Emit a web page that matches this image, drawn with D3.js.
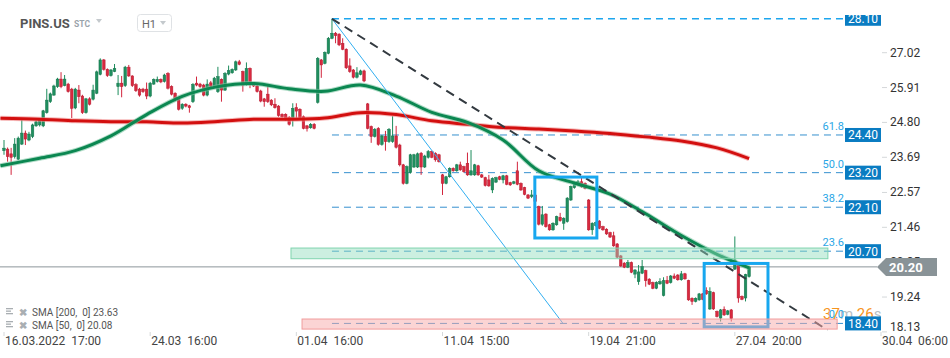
<!DOCTYPE html>
<html lang="en">
<head>
<meta charset="utf-8">
<title>PINS.US H1</title>
<script src="https://cdn.jsdelivr.net/npm/d3@7"></script>
<style>
  html, body { margin:0; padding:0; background:#fff; overflow:hidden; }
  svg text { font-family: Roboto, 'Open Sans', sans-serif; }
  .price_lbl { font-size:12px; fill:#333; }
  .time_lbl { font-size:12px; fill:#444; white-space:pre; }
  .fib_txt { font-size:11px; fill:#2aa6e6; text-anchor:end; }
  .box_txt { font-size:12px; fill:#fff; text-anchor:middle; }
  .legend_txt { font-size:10px; fill:#555; white-space:pre; }
</style>
</head>
<body>
<div id="chart"></div>
<script>
// ---- candles (hourly) ----
var opens = [23.90,23.95,23.80,23.71,23.63,24.11,24.46,24.24,24.35,24.69,24.72,24.69,25.11,25.46,25.67,25.94,26.18,25.97,26.02,25.86,
  25.26,25.83,25.64,25.11,25.55,25.54,25.73,26.33,26.79,26.49,26.29,26.42,25.94,26.05,25.97,26.56,26.28,26.00,25.86,25.86,
  25.86,25.64,26.02,26.10,26.17,26.10,26.36,25.94,25.73,25.54,25.25,25.38,25.33,25.46,26.05,26.02,25.99,25.67,26.06,25.94,
  25.78,26.17,25.83,26.34,26.38,26.47,26.73,26.42,26.01,26.52,26.02,25.96,25.80,25.55,25.70,25.51,25.38,25.32,25.06,25.06,
  24.96,24.88,25.27,25.22,24.98,24.69,24.63,24.74,25.44,26.79,26.68,27.00,27.48,27.64,27.61,27.32,27.13,26.60,26.47,26.24,
  26.33,26.44,25.39,24.67,24.35,24.61,24.10,24.35,24.19,24.19,24.37,24.08,23.45,22.86,23.20,23.38,23.38,23.82,23.38,23.69,
  23.87,23.82,23.77,23.13,22.86,23.07,23.34,23.26,23.45,23.39,23.50,23.13,23.13,23.42,23.13,23.04,22.97,22.65,22.90,23.07,
  22.97,23.10,22.88,22.86,23.26,22.86,22.72,22.49,22.44,22.49,22.12,21.56,21.88,21.54,21.38,21.54,21.78,21.59,21.64,22.33,
  22.72,22.81,22.91,22.86,22.33,21.38,21.51,21.66,21.48,21.40,21.29,21.19,20.93,20.55,20.32,20.19,20.34,19.97,19.73,20.00,
  20.08,19.81,19.70,19.52,19.66,19.29,19.77,19.70,19.91,19.94,19.79,19.98,19.76,19.20,19.10,19.15,19.34,19.45,18.86,19.38,
  18.78,18.57,18.85,18.69,18.83,20.13,20.26,19.26,19.21,19.89];
var highs = [24.24,24.00,23.99,24.30,24.35,24.88,24.54,24.50,24.76,24.86,24.92,25.20,25.87,25.75,26.00,26.22,26.40,26.31,26.06,25.90,
  25.90,25.99,25.68,25.58,25.60,26.00,26.45,26.84,26.82,26.52,26.50,26.66,26.31,26.28,26.60,26.63,26.30,26.05,25.90,25.90,
  26.07,26.09,26.20,26.26,26.20,26.35,26.40,25.98,25.76,25.57,25.41,25.41,25.36,26.05,26.26,26.06,26.03,26.17,26.12,26.25,
  26.57,26.20,26.40,26.61,26.52,26.77,26.79,26.45,26.71,26.55,26.05,26.00,25.84,25.58,25.99,25.54,25.57,25.35,25.09,25.09,
  25.00,25.41,25.41,25.25,25.02,24.72,24.78,24.78,26.88,26.82,27.06,27.52,28.10,27.68,27.64,27.48,27.16,26.84,26.50,26.56,
  26.48,26.48,25.42,24.70,24.62,24.65,24.40,24.53,24.62,25.00,24.69,24.12,23.48,23.43,23.80,23.80,23.84,23.86,23.77,23.92,
  23.90,23.85,23.80,23.16,23.10,23.37,23.37,23.48,23.55,23.42,23.84,23.92,23.48,23.45,23.16,23.07,23.13,23.05,23.07,23.10,
  23.13,23.13,22.91,22.94,23.55,22.89,22.75,22.52,22.65,22.52,22.15,22.14,21.91,21.57,21.62,21.83,21.92,21.78,22.42,22.79,
  22.91,22.97,23.03,22.89,22.36,21.62,21.64,21.69,21.51,21.43,21.32,21.32,20.96,20.58,20.35,20.42,20.37,20.13,20.26,20.42,
  20.11,19.84,19.73,19.74,19.84,19.87,19.91,19.94,19.99,19.97,20.07,20.01,19.79,19.23,19.23,19.37,19.37,19.55,19.55,19.41,
  18.81,18.86,18.94,18.83,18.86,21.17,20.29,19.29,19.98,20.21];
var lows = [23.77,23.55,23.13,23.65,23.60,24.08,24.08,24.20,24.30,24.66,24.67,24.65,25.08,25.42,25.65,25.90,25.89,25.95,25.75,24.94,
  25.22,25.41,25.07,25.08,25.34,25.50,25.70,26.30,26.45,26.25,26.26,26.40,25.67,25.60,25.93,26.25,25.93,25.77,25.62,25.74,
  25.54,25.60,26.00,26.07,26.05,26.07,25.85,25.66,25.47,25.18,25.20,25.28,25.11,25.42,25.95,25.90,25.63,25.63,25.90,25.90,
  25.74,25.46,25.80,26.30,26.35,26.44,26.62,25.78,25.97,25.89,25.93,25.75,25.44,25.30,25.42,25.32,25.24,24.98,24.95,24.85,
  24.70,24.67,24.88,24.92,24.58,24.51,24.60,24.58,25.40,26.22,26.65,26.97,27.45,27.32,27.23,27.10,26.50,26.38,26.20,26.20,
  26.30,26.08,24.58,24.15,24.32,24.06,24.06,23.90,24.15,24.15,23.97,23.40,22.82,22.83,23.17,23.35,23.35,23.13,23.35,23.65,
  23.66,23.55,23.52,22.49,22.83,23.04,23.23,23.23,23.26,23.20,23.10,23.10,23.10,23.10,23.03,22.76,22.75,22.55,22.87,22.96,
  22.86,22.80,22.78,22.83,22.80,22.62,22.48,22.36,22.39,22.25,21.52,21.51,21.45,21.35,21.35,21.51,21.64,21.38,21.61,22.30,
  22.69,22.78,22.72,22.67,21.35,21.22,21.48,21.40,21.35,21.22,21.12,20.84,20.48,20.20,20.16,20.16,20.00,19.84,19.63,19.97,
  19.57,19.62,19.49,19.49,19.63,19.26,19.65,19.67,19.81,19.76,19.76,19.79,19.12,18.99,19.07,19.12,19.14,19.31,18.83,18.83,
  18.59,18.46,18.64,18.66,18.46,20.10,19.06,19.14,19.10,19.86];
var closes = [23.98,23.71,23.69,24.11,24.30,24.46,24.27,24.43,24.72,24.82,24.88,25.17,25.51,25.71,25.96,26.18,25.94,26.18,25.78,25.25,
  25.86,25.62,25.11,25.55,25.38,25.83,26.41,26.79,26.49,26.29,26.47,26.52,26.05,25.94,26.56,26.28,25.97,25.81,25.67,25.78,
  25.64,26.05,26.17,26.17,26.09,26.31,25.89,25.70,25.51,25.22,25.38,25.32,25.27,26.01,25.99,25.94,25.67,26.02,25.94,26.21,
  26.26,25.83,26.36,26.45,26.49,26.73,26.65,25.99,26.52,26.01,25.96,25.78,25.48,25.46,25.46,25.36,25.27,25.02,24.98,24.88,
  24.74,25.25,25.16,24.95,24.61,24.61,24.74,24.61,26.84,26.63,27.03,27.48,27.64,27.56,27.27,27.13,26.54,26.42,26.24,26.38,
  26.44,26.12,24.61,24.35,24.58,24.10,24.37,24.19,24.58,24.37,24.01,23.45,22.86,23.39,23.77,23.77,23.80,23.38,23.73,23.87,
  23.69,23.61,23.55,22.86,23.07,23.34,23.26,23.45,23.29,23.23,23.13,23.26,23.45,23.13,23.06,22.79,22.78,23.02,23.04,22.99,
  23.10,22.83,22.81,22.91,22.83,22.65,22.51,22.39,22.49,22.28,21.56,21.86,21.48,21.38,21.59,21.80,21.67,21.75,22.39,22.76,
  22.88,22.91,22.76,22.70,21.38,21.59,21.61,21.43,21.38,21.25,21.15,20.87,20.51,20.23,20.19,20.34,20.03,20.10,20.04,20.21,
  19.76,19.65,19.52,19.71,19.73,19.76,19.68,19.91,19.84,19.79,19.98,19.82,19.15,19.10,19.20,19.34,19.17,19.34,19.42,18.86,
  18.62,18.83,18.67,18.80,18.55,20.42,19.21,19.17,19.95,20.20];

// ---- moving averages (candle index -> value) ----
var smaIdx = [-1,10,20,30,40,50,60,70,80,90,100,110,120,130,140,150,160,170,180,190,200,209];
var sma50 = [23.42,23.66,23.90,24.37,25.05,25.63,25.94,26.04,25.87,25.79,25.99,25.64,25.12,24.80,24.24,23.26,22.87,22.52,21.89,21.20,20.60,20.17];
var sma200 = [24.93,24.90,24.85,24.82,24.82,24.78,24.83,24.90,24.90,24.94,25.11,25.05,24.85,24.74,24.64,24.59,24.53,24.45,24.34,24.21,23.99,23.65];

// ---- axes ----
var priceTicks = [27.02,25.91,24.80,23.69,22.57,21.46,20.35,19.24,18.13];
var timeTickIdx = [0,41,82,123,164,205,246];
var timeTickLbl = ["16.03.2022  17:00","24.03  16:00","01.04  16:00","11.04  15:00","19.04  21:00","27.04  20:00","30.04  06:00"];

// ---- fibonacci retracement drawn from the top ----
var fibLevels = [28.10,24.40,23.20,22.10,20.70,18.40];
var fibRatios = ["","61.8","50.0","38.2","23.6","0.0"];
var fibStartIdx = 92;

// ---- drawings: [idx0, price0, idx1, price1] ----
var trendDashed = [92,28.10,231,18.19];
var trendThin = [92,28.10,156.8,18.40];
var greenZone = [80.5,20.80,231.1,20.46];
var redZone = [83.6,18.54,233.7,18.22];
var boxes = [[148.9,23.06,166.3,21.12],[196.4,20.31,214.3,18.29]];

var lastPrice = 20.20;
var legendLines = ["SMA [200,  0] 23.63","SMA [50,  0] 20.08"];

var w = 950, h = 358;

var svg = d3.select("#chart").append("svg")
  .attr("width", w).attr("height", h);

var x = d3.scaleLinear().domain([0, 246]).range([4, 881]);
var y = d3.scaleLinear().domain([18.13, 27.02]).range([331.9, 52.7]);

var defs = svg.append("defs");
defs.append("clipPath").attr("id", "clip")
  .append("rect").attr("x", 0).attr("y", 15).attr("width", w).attr("height", h - 15);

//////////////////////////////////////////////////////////////////////
// header
svg.append("text").attr("x", 20).attr("y", 28)
  .style("font-size", "13px").style("font-weight", "bold").style("fill", "#555")
  .text("PINS.US");
svg.append("text").attr("x", 74).attr("y", 27)
  .style("font-size", "8.5px").style("font-weight", "bold").style("fill", "#9aa3ab")
  .text("STC");
svg.append("path").attr("d", "M96,19 L102,19 L99,23 Z").attr("fill", "#c4c9cd");
svg.append("rect").attr("x", 137.5).attr("y", 14.5).attr("width", 34).attr("height", 17).attr("rx", 3)
  .attr("fill", "#fff").attr("stroke", "#dfe2e5");
svg.append("text").attr("x", 142).attr("y", 28)
  .style("font-size", "11px").style("fill", "#666")
  .text("H1");
svg.append("path").attr("d", "M160,21 L166,21 L163,25 Z").attr("fill", "#c4c9cd");

//////////////////////////////////////////////////////////////////////
// fib lines
var fib = svg.append("g");
fib.selectAll("line").data(fibLevels).enter().append("line")
  .attr("x1", x(fibStartIdx)).attr("x2", 845)
  .attr("y1", function(d){ return y(d); }).attr("y2", function(d){ return y(d); })
  .attr("stroke", function(d, i){ return i == 0 ? "#1da6ee" : "#3590cf"; })
  .attr("stroke-width", function(d, i){ return i == 0 ? 1.4 : 1; })
  .attr("stroke-dasharray", "7,5");

// current price line
svg.append("line").attr("x1", 0).attr("x2", 877)
  .attr("y1", y(lastPrice)).attr("y2", y(lastPrice))
  .attr("stroke", "#8c969b").attr("stroke-width", 1);

//////////////////////////////////////////////////////////////////////
// candles
var candles = svg.append("g").selectAll("g").data(closes).enter().append("g");
candles.append("line")
  .attr("x1", function(d, i){ return x(i); }).attr("x2", function(d, i){ return x(i); })
  .attr("y1", function(d, i){ return y(highs[i]); }).attr("y2", function(d, i){ return y(lows[i]); })
  .attr("stroke", function(d, i){ return d >= opens[i] ? "#1c8c5c" : "#d2253d"; })
  .attr("stroke-width", 1);
candles.append("rect")
  .attr("x", function(d, i){ return x(i) - 1.3; })
  .attr("width", 2.6)
  .attr("y", function(d, i){ return y(Math.max(d, opens[i])); })
  .attr("height", function(d, i){ return Math.max(1, Math.abs(y(d) - y(opens[i]))); })
  .attr("fill", function(d, i){ return d >= opens[i] ? "#1f8f5f" : "#d9293f"; })
  .attr("stroke", function(d, i){ return d >= opens[i] ? "#17744c" : "#b51c30"; })
  .attr("stroke-width", 0.5);

//////////////////////////////////////////////////////////////////////
// moving averages
var smaLine = d3.line()
  .x(function(d, i){ return x(smaIdx[i]); })
  .y(function(d){ return y(d); })
  .curve(d3.curveCatmullRom);

svg.append("path").attr("d", smaLine(sma200))
  .attr("fill", "none").attr("stroke", "#f08a8a").attr("stroke-width", 5).attr("opacity", 0.6);
svg.append("path").attr("d", smaLine(sma200))
  .attr("fill", "none").attr("stroke", "#d30f0f").attr("stroke-width", 3);
svg.append("path").attr("d", smaLine(sma50))
  .attr("fill", "none").attr("stroke", "#7cc4a2").attr("stroke-width", 5).attr("opacity", 0.6);
svg.append("path").attr("d", smaLine(sma50))
  .attr("fill", "none").attr("stroke", "#0b8751").attr("stroke-width", 3);

//////////////////////////////////////////////////////////////////////
// trend lines
svg.append("line")
  .attr("x1", x(trendThin[0])).attr("y1", y(trendThin[1]))
  .attr("x2", x(trendThin[2])).attr("y2", y(trendThin[3]))
  .attr("stroke", "#31aef0").attr("stroke-width", 1);
svg.append("line")
  .attr("x1", x(trendDashed[0])).attr("y1", y(trendDashed[1]))
  .attr("x2", x(trendDashed[2])).attr("y2", y(trendDashed[3]))
  .attr("stroke", "#333a40").attr("stroke-width", 2).attr("stroke-dasharray", "9,6");

// boxes
svg.append("g").selectAll("rect").data(boxes).enter().append("rect")
  .attr("x", function(d){ return x(d[0]); })
  .attr("y", function(d){ return y(d[1]); })
  .attr("width", function(d){ return x(d[2]) - x(d[0]); })
  .attr("height", function(d){ return y(d[3]) - y(d[1]); })
  .attr("fill", "none").attr("stroke", "#17a7ef").attr("stroke-width", 3);

// zones
svg.append("rect")
  .attr("x", x(greenZone[0])).attr("y", y(greenZone[1]))
  .attr("width", x(greenZone[2]) - x(greenZone[0])).attr("height", y(greenZone[3]) - y(greenZone[1]))
  .attr("fill", "#8fdcbb").attr("fill-opacity", 0.45)
  .attr("stroke", "#7fd4ae").attr("stroke-width", 1);
svg.append("rect")
  .attr("x", x(redZone[0])).attr("y", y(redZone[1]))
  .attr("width", x(redZone[2]) - x(redZone[0])).attr("height", y(redZone[3]) - y(redZone[1]))
  .attr("fill", "#f7a9a9").attr("fill-opacity", 0.5)
  .attr("stroke", "#f19c9c").attr("stroke-width", 1);

//////////////////////////////////////////////////////////////////////
// price axis
var pAxis = svg.append("g");
pAxis.selectAll("line").data(priceTicks).enter().append("line")
  .attr("x1", 882).attr("x2", 887)
  .attr("y1", function(d){ return y(d); }).attr("y2", function(d){ return y(d); })
  .attr("stroke", "#d5d8da");
pAxis.selectAll("text").data(priceTicks).enter().append("text")
  .attr("class", "price_lbl")
  .attr("x", 890)
  .attr("y", function(d){ return Math.min(y(d), 327) + 4; })
  .text(function(d){ return d.toFixed(2); });

// time axis
var tAxis = svg.append("g");
tAxis.selectAll("line").data(timeTickIdx).enter().append("line")
  .attr("x1", function(d){ return x(d); }).attr("x2", function(d){ return x(d); })
  .attr("y1", 332).attr("y2", 336)
  .attr("stroke", "#d5d8da");
tAxis.selectAll("text").data(timeTickIdx).enter().append("text")
  .attr("class", "time_lbl")
  .attr("x", function(d){ return x(d) + 1; })
  .attr("y", 345)
  .text(function(d, i){ return timeTickLbl[i]; });

// countdown
var cd = svg.append("text").attr("x", 823).attr("y", 319).style("font-size", "15px");
cd.append("tspan").style("fill", "#f7941d").text("37");
cd.append("tspan").style("fill", "#b9bfc4").text("m ");
cd.append("tspan").style("fill", "#f7941d").text("26");
cd.append("tspan").style("fill", "#b9bfc4").text("s");

// fib ratio labels + level boxes
var fibLbl = svg.append("g").attr("clip-path", "url(#clip)");
fibLbl.selectAll("text.fib_txt").data(fibLevels).enter().append("text")
  .attr("class", "fib_txt")
  .attr("x", 844)
  .attr("y", function(d){ return y(d) - 5; })
  .text(function(d, i){ return fibRatios[i]; });
fibLbl.selectAll("rect").data(fibLevels).enter().append("rect")
  .attr("x", 845).attr("width", 36)
  .attr("y", function(d){ return y(d) - 7; }).attr("height", 14)
  .attr("fill", "#0a7cc2");
fibLbl.selectAll("text.box_txt").data(fibLevels).enter().append("text")
  .attr("class", "box_txt")
  .attr("x", 863)
  .attr("y", function(d){ return y(d) + 4.5; })
  .text(function(d){ return d.toFixed(2); });

// last price marker
var ly = y(lastPrice);
svg.append("path")
  .attr("d", "M877," + ly + " L886," + (ly - 9) + " L937," + (ly - 9) + " L937," + (ly + 9) + " L886," + (ly + 9) + " Z")
  .attr("fill", "#899397");
svg.append("text").attr("x", 889).attr("y", ly + 5)
  .style("font-size", "13px").style("font-weight", "bold").style("fill", "#fff")
  .text(lastPrice.toFixed(2));

//////////////////////////////////////////////////////////////////////
// legend
var leg = svg.append("g").selectAll("g").data(legendLines).enter().append("g")
  .attr("transform", function(d, i){ return "translate(0," + (312 + i * 13) + ")"; });
leg.append("rect").attr("x", 6).attr("y", -4).attr("width", 7).attr("height", 1.3).attr("fill", "#a9aeb2");
leg.append("rect").attr("x", 6).attr("y", -1.5).attr("width", 5).attr("height", 1.3).attr("fill", "#a9aeb2");
leg.append("rect").attr("x", 6).attr("y", 1).attr("width", 7).attr("height", 1.3).attr("fill", "#a9aeb2");
leg.append("text").attr("x", 19).attr("y", 3.5)
  .style("font-size", "10px").style("font-weight", "bold").style("fill", "#a9aeb2")
  .text("\u2716");
leg.append("text").attr("class", "legend_txt").attr("x", 32).attr("y", 4)
  .text(function(d){ return d; });
</script>
</body>
</html>
